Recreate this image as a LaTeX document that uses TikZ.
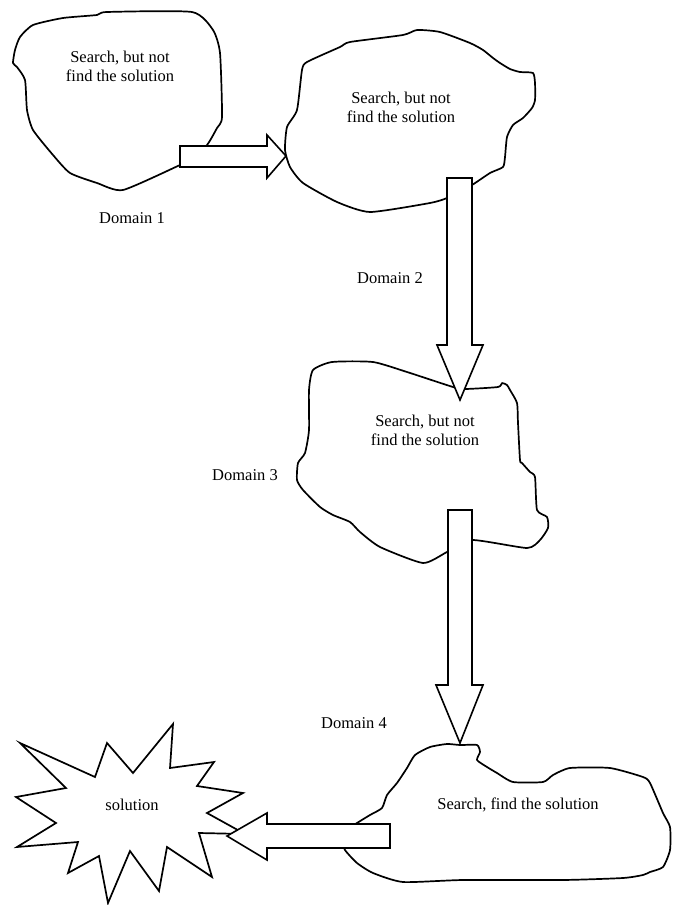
\documentclass[tikz,border=0pt]{standalone}
\usepackage{fontspec}
\setmainfont{Liberation Serif}
\begin{document}
\begin{tikzpicture}[x=1pt,y=-1pt,
  outline/.style={line width=1.7pt,line join=round,fill=white},
  blockarrow/.style={line width=1.6pt,line join=miter,fill=white},
  lbl/.style={font=\fontsize{16.5}{19}\selectfont,align=center,inner sep=0pt}]
\useasboundingbox (0,0) rectangle (678,905);
% blobs
\draw[outline] plot[smooth cycle,tension=0.35] coordinates {(33,25)(63,18)(97,15)(107,12)(192,12)(213,30)(220,53)(222,117)(217,128)(207,145)(190,160)(180,165)(123,190)(97,183)(70,173)(53,155)(33,130)(27,110)(25,80)(17,67)(13,63)(15,50)(20,37)};
\draw[outline] plot[smooth cycle,tension=0.35] coordinates {(285,150)(287,127)(297,110)(302,70)(307,62)(340,47)(350,42)(403,35)(417,30)(440,32)(470,43)(483,50)(493,58)(500,63)(510,69)(520,72)(533,73)(535,83)(535,100)(532,108)(523,118)(513,125)(507,137)(505,157)(503,167)(490,173)(472,185)(460,190)(447,198)(430,203)(370,212)(337,202)(303,183)(290,167)};
\draw[outline] plot[smooth cycle,tension=0.35] coordinates {(313,370)(332,362)(373,362)(407,372)(453,387)(465,389)(498,387)(502,383)(507,385)(510,390)(517,403)(518,423)(520,460)(522,463)(530,472)(535,477)(537,510)(547,517)(548,528)(540,540)(527,548)(472,540)(447,552)(423,563)(380,547)(360,532)(350,522)(333,515)(320,507)(303,490)(297,480)(298,463)(305,453)(309,430)(309,390)};
\draw[outline] plot[smooth cycle,tension=0.35] coordinates {(447,744)(460,745)(477,745)(480,752)(477,760)(487,767)(497,773)(513,782)(543,782)(553,775)(570,768)(610,768)(643,777)(650,783)(663,813)(670,827)(670,850)(663,867)(650,872)(643,875)(623,878)(563,880)(463,880)(403,882)(373,873)(357,863)(345,850)(343,840)(350,828)(357,823)(370,815)(382,808)(387,795)(397,783)(407,768)(415,755)(430,747)};
% star
\draw[outline,line join=miter] (20,743)--(95,777)--(107,743)--(133,773)--(173,724)--(170,768)--(214,762)--(197,786)--(243,793)--(207,813)--(245,834)--(199,833)--(212,877)--(167,847)--(159,891)--(130,851)--(108,903)--(99,856)--(68,873)--(78,842)--(17,847)--(56,823)--(16,797)--(66,788)--cycle;
% texts
\node[lbl] (t1) at (120,66) {Search, but not\\find the solution};
\node[lbl] (t2) at (401,107) {Search, but not\\find the solution};
\node[lbl] (t3) at (425,430) {Search, but not\\find the solution};
\node[lbl] (t4) at (518,805) {Search, find the solution};
\node[lbl] (t5) at (132,805) {solution};
\node[lbl] (d1) at (132,218) {Domain 1};
\node[lbl] (d2) at (390,278) {Domain 2};
\node[lbl] (d3) at (245,475) {Domain 3};
\node[lbl] (d4) at (354,723) {Domain 4};
% block arrows
\draw[blockarrow] (180,146)--(267,146)--(267,135)--(286,156)--(267,178)--(267,167)--(180,167)--cycle;
\draw[blockarrow] (447,178)--(472,178)--(472,345)--(483,345)--(460,400)--(437,345)--(447,345)--cycle;
\draw[blockarrow] (448,510)--(472,510)--(472,685)--(483,685)--(460,743)--(436,685)--(448,685)--cycle;
\draw[blockarrow] (390,824)--(390,848)--(267,848)--(267,860)--(227,836)--(267,813)--(267,824)--cycle;
\end{tikzpicture}
\end{document}
